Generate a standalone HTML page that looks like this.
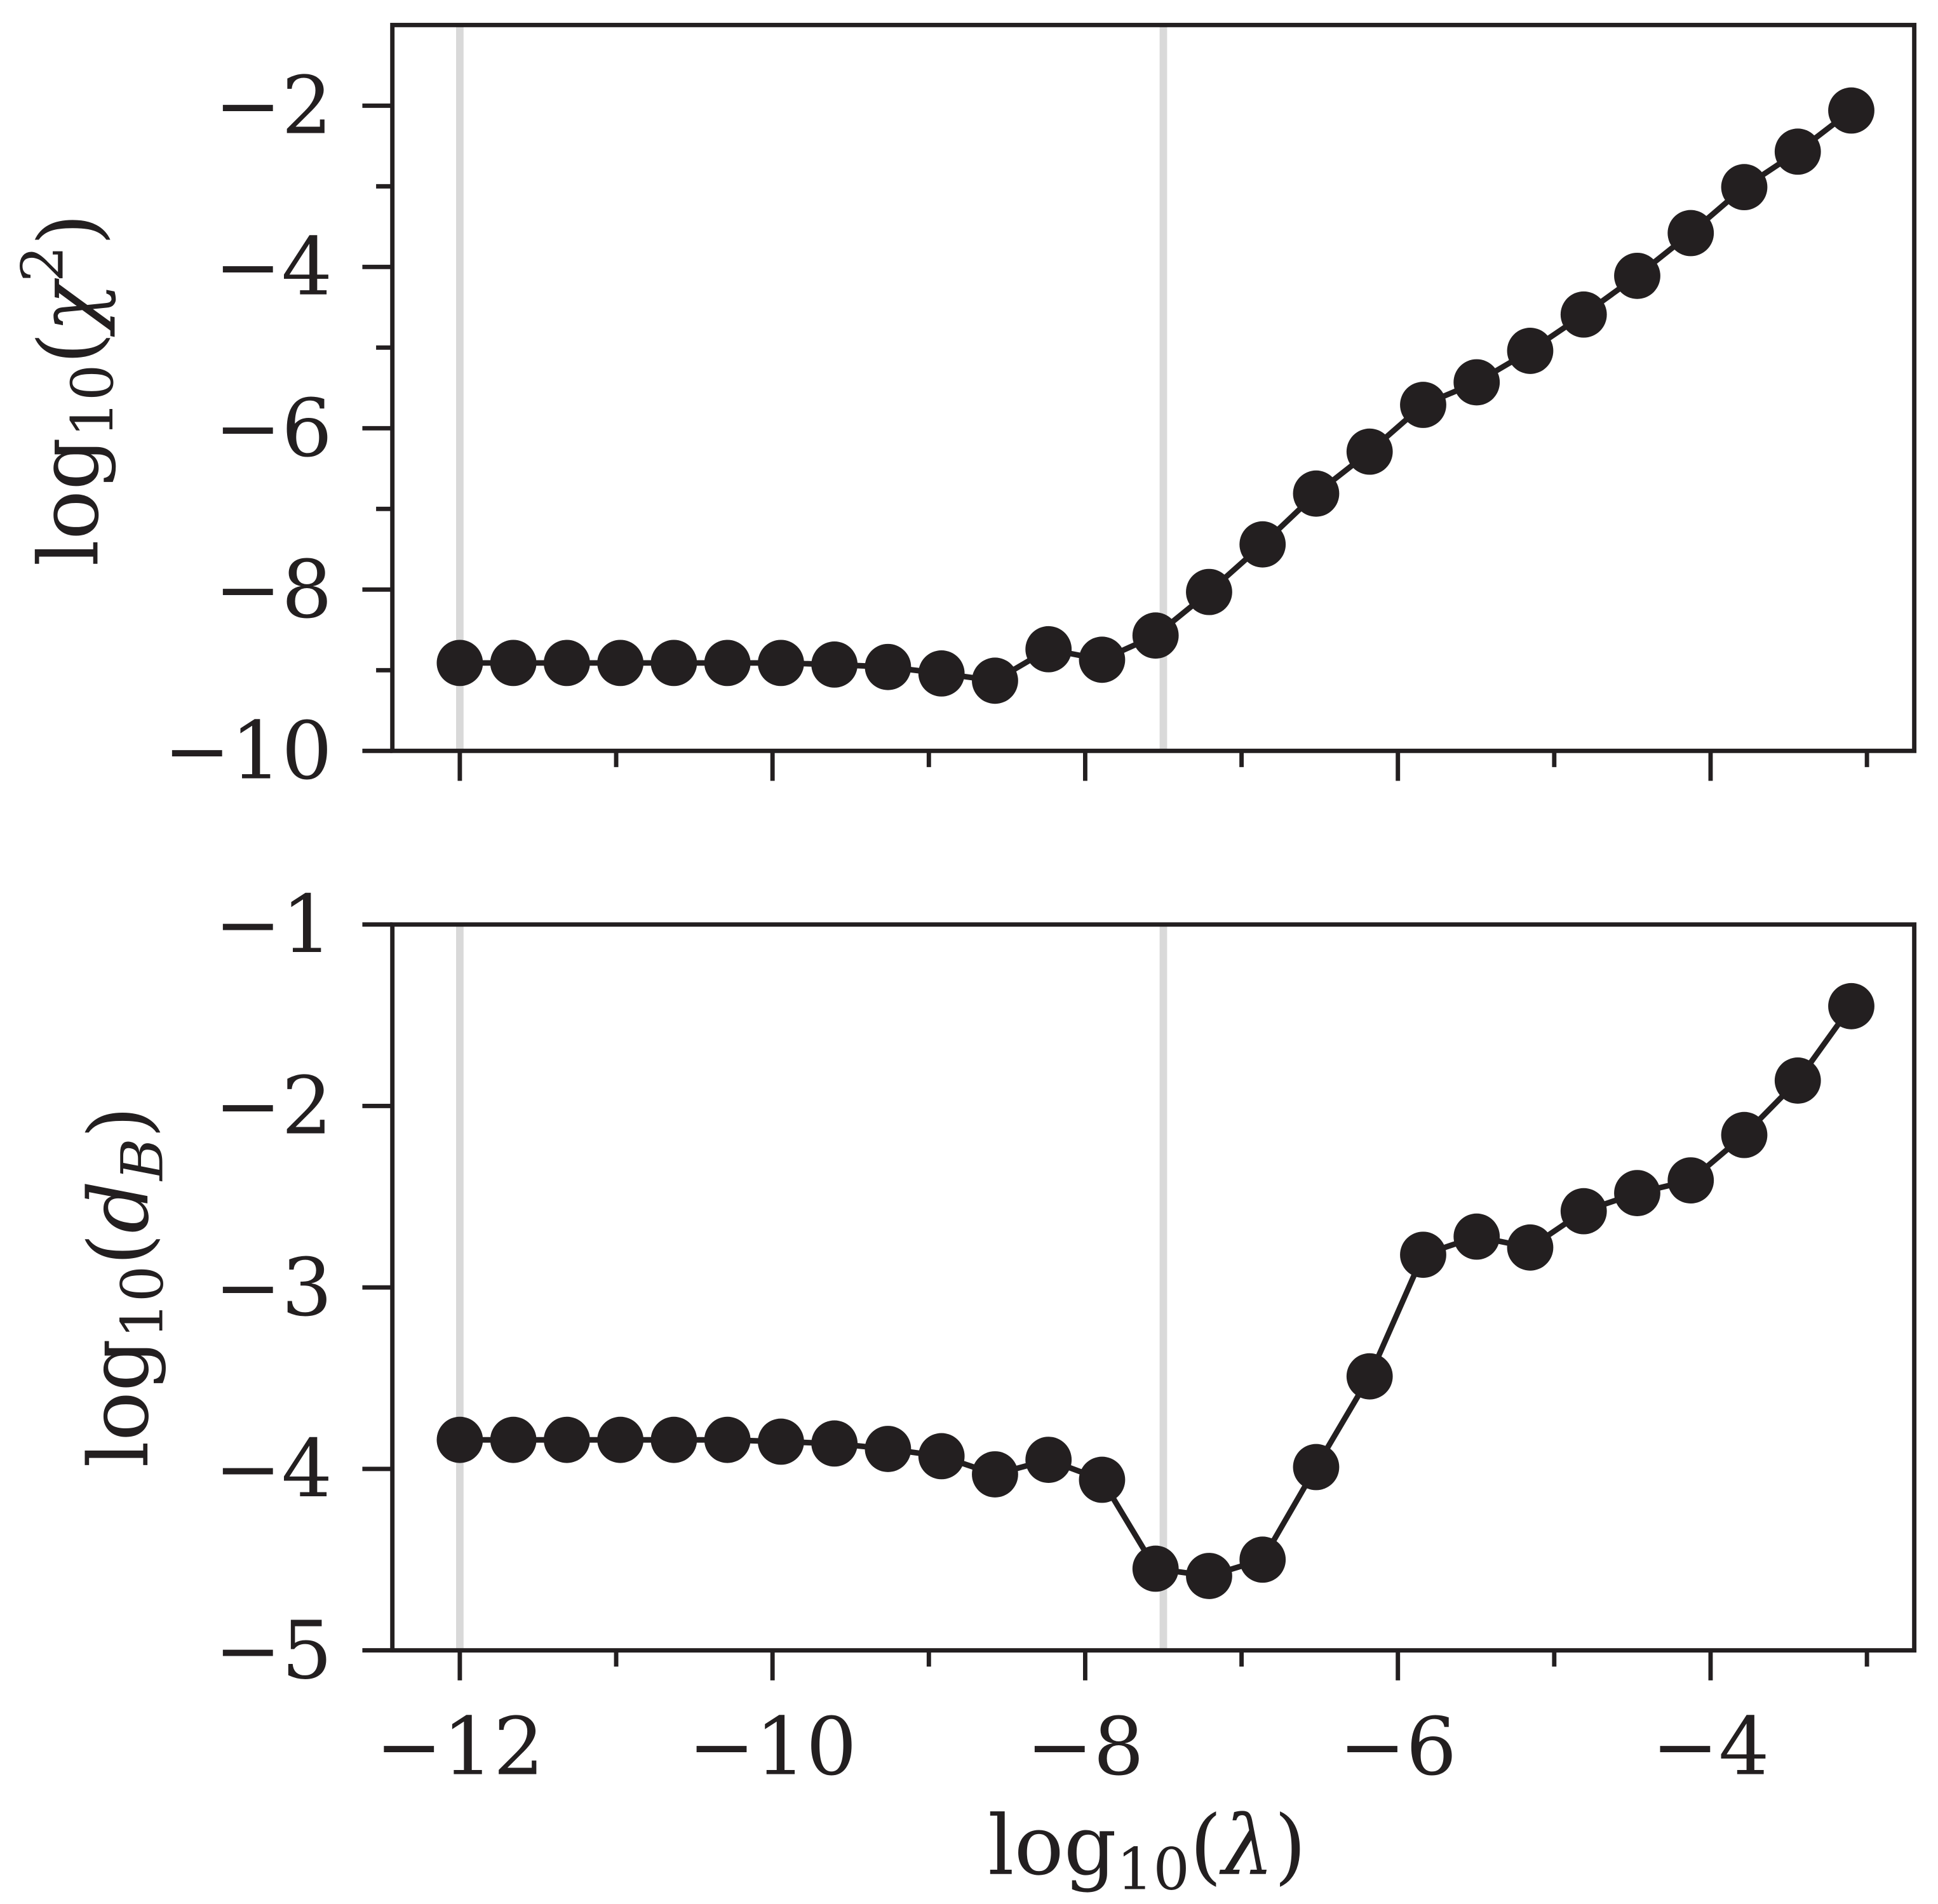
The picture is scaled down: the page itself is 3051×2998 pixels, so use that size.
<!DOCTYPE html>
<html><head><meta charset="utf-8"><style>
html,body{margin:0;padding:0;background:#fff;}
svg{display:block;}
text{font-family:"DejaVu Serif","Liberation Serif",serif;fill:#231f20;}
</style></head><body>
<svg id="chart" width="3051" height="2998" viewBox="0 0 1551 1524" xmlns="http://www.w3.org/2000/svg"></svg>
<script>
const nPoints = 27;
const xStart = -12;
const xStep = 8.9 / 26;
const chi2Values = [-8.91,-8.91,-8.91,-8.91,-8.91,-8.91,-8.91,-8.93,-8.96,-9.04,-9.13,-8.74,-8.87,-8.57,-8.03,-7.44,-6.81,-6.29,-5.71,-5.43,-5.04,-4.59,-4.11,-3.58,-3.01,-2.57,-2.06];
const dbValues = [-3.84,-3.84,-3.84,-3.84,-3.84,-3.84,-3.85,-3.86,-3.89,-3.93,-4.03,-3.95,-4.06,-4.55,-4.59,-4.50,-3.99,-3.49,-2.82,-2.72,-2.78,-2.58,-2.48,-2.41,-2.16,-1.86,-1.45];
const vLines = [-12, -7.5];
const xTicksMajor = [-12,-10,-8,-6,-4];
const xTicksMinor = [-11,-9,-7,-5,-3];
const topYMajor = [-2,-4,-6,-8,-10];
const topYMinor = [-3,-5,-7,-9];
const botYMajor = [-1,-2,-3,-4,-5];

const svg = document.getElementById('chart');
const NS = 'http://www.w3.org/2000/svg';
function mk(tag, attrs, parent){
  const e = document.createElementNS(NS, tag);
  for (const k in attrs) e.setAttribute(k, attrs[k]);
  (parent||svg).appendChild(e);
  return e;
}
const L = 314, R = 1532;
const xs = v => 368 + (v + 12) * 125.125;
const xVals = [];
for (let i = 0; i < nPoints; i++) xVals.push(xStart + i * xStep);

function panel(name, top, bottom, ymin, ymax, values, yMajor, yMinor, showXLabels){
  const g = mk('g', {});
  
  
  const ys = v => bottom - (v - ymin) / (ymax - ymin) * (bottom - top);
  vLines.forEach(v => {
    const l = mk('line', {x1: xs(v), x2: xs(v), y1: top, y2: bottom, stroke: '#d9d9d9', 'stroke-width': 6}, g);
    
    
  });
  let d = '';
  values.forEach((v, i) => { d += (i ? 'L' : 'M') + xs(xVals[i]) + ' ' + ys(v); });
  const pl = mk('path', {d: d, fill: 'none', stroke: '#231f20', 'stroke-width': 4.5}, g);
  
  
  values.forEach((v, i) => {
    const c = mk('circle', {cx: xs(xVals[i]), cy: ys(v), r: 18.5, fill: '#231f20'}, g);
    
    
  });
  const fr = mk('rect', {x: L, y: top, width: R - L, height: bottom - top, fill: 'none', stroke: '#231f20', 'stroke-width': 3.5}, g);
  
  
  xTicksMajor.forEach(v => {
    mk('line', {x1: xs(v), x2: xs(v), y1: bottom, y2: bottom + 24, stroke: '#231f20', 'stroke-width': 3.5}, g);
    if (showXLabels) {
      const t = mk('text', {x: xs(v), y: 1420, 'font-size': 64, 'text-anchor': 'middle'}, g);
      
      
      t.textContent = '\u2212' + Math.abs(v);
    }
  });
  xTicksMinor.forEach(v => mk('line', {x1: xs(v), x2: xs(v), y1: bottom, y2: bottom + 13, stroke: '#231f20', 'stroke-width': 3.5}, g));
  yMajor.forEach(v => {
    mk('line', {x1: L - 24, x2: L, y1: ys(v), y2: ys(v), stroke: '#231f20', 'stroke-width': 3.5}, g);
    const t = mk('text', {x: 266, y: ys(v) + 22, 'font-size': 64, 'text-anchor': 'end'}, g);
    
    
    t.textContent = '\u2212' + Math.abs(v);
  });
  yMinor.forEach(v => mk('line', {x1: L - 13, x2: L, y1: ys(v), y2: ys(v), stroke: '#231f20', 'stroke-width': 3.5}, g));
}
panel('top-panel-chi2', 20, 601, -10, -1, chi2Values, topYMajor, topYMinor, false);
panel('bottom-panel-db', 740, 1321, -5, -1, dbValues, botYMajor, [], true);
</script>
<svg style="position:absolute;left:0;top:0" width="3051" height="2998" viewBox="0 0 1551 1524" xmlns="http://www.w3.org/2000/svg">
  <text transform="translate(78,312) rotate(-90)" text-anchor="middle" font-size="66">log<tspan font-size="46" dy="12">10</tspan><tspan dy="-12">(</tspan><tspan font-style="italic">χ</tspan><tspan font-size="46" dy="-28">2</tspan><tspan dy="28">)</tspan></text>
  <text transform="translate(118,1030) rotate(-90)" text-anchor="middle" font-size="66">log<tspan font-size="46" dy="12">10</tspan><tspan dy="-12">(</tspan><tspan font-style="italic">d</tspan><tspan font-size="46" font-style="italic" dy="12">B</tspan><tspan dy="-12">)</tspan></text>
  <text x="918" y="1500" text-anchor="middle" font-size="66">log<tspan font-size="46" dy="12">10</tspan><tspan dy="-12">(</tspan><tspan font-style="italic">λ</tspan>)</text>
</svg>
</body></html>
